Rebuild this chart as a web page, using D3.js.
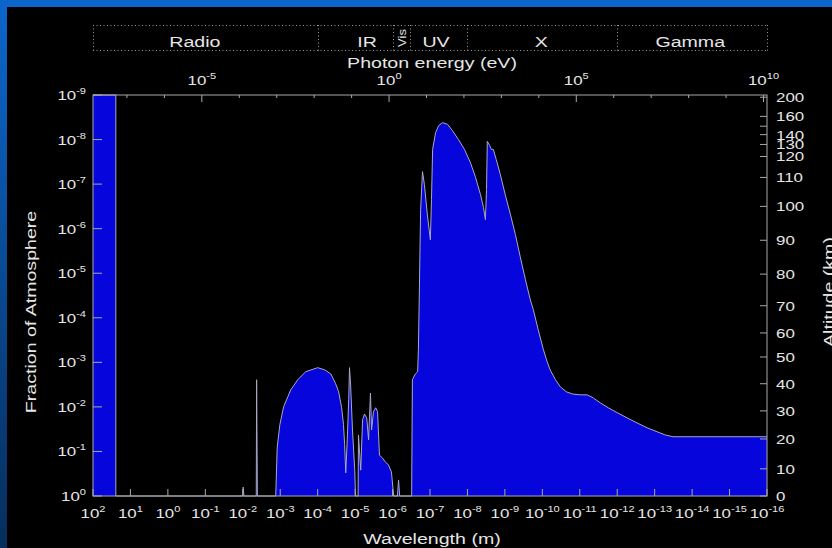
<!DOCTYPE html>
<html lang="en">
<head>
  <meta charset="UTF-8" />
  <title>Atmospheric opacity</title>
  <style>
    body { margin: 0; padding: 0; background: #000; }
    svg { display: block; }
    text { font-family: "Liberation Sans", Arial, sans-serif; fill: #e6e6e6; }
  </style>
  <script src="https://d3js.org/d3.v7.min.js"></script>
</head>
<body>
  <svg width="832" height="548"></svg>
  <script>
    // absorption profile: log10 wavelength (m) and log10 fraction of atmosphere above it
    const wlExp = [2.00, 1.39, 1.39,
      -2.00, -2.01, -2.03, -2.36, -2.37, -2.39,
      -2.88, -2.92, -2.99, -3.09, -3.28, -3.47, -3.68, -4.00, -4.19, -4.35, -4.48, -4.56, -4.64, -4.69, -4.72, -4.75,
      -4.79, -4.83, -4.85, -4.88, -4.93, -4.99, -5.01,
      -5.08, -5.09, -5.15, -5.20, -5.25, -5.31, -5.36, -5.41, -5.44, -5.49, -5.55, -5.60, -5.65, -5.73, -5.81, -5.89, -5.97, -6.03,
      -6.13, -6.16, -6.19,
      -6.51, -6.53, -6.61, -6.67, -6.69, -6.72, -6.75, -6.80, -6.85, -6.93, -7.01, -7.04, -7.07, -7.15, -7.23, -7.33,
      -7.47, -7.60, -7.76, -7.92, -8.08, -8.21, -8.35, -8.43, -8.48, -8.51, -8.53, -8.59, -8.64, -8.69, -8.77, -8.88,
      -9.01, -9.15, -9.28, -9.41, -9.55, -9.68, -9.76, -9.89, -10.03, -10.13, -10.21, -10.35, -10.48, -10.64, -10.80,
      -11.01, -11.20, -11.36, -11.55, -11.76, -12.00, -12.27, -12.53, -12.80, -13.07, -13.28, -13.49, -16.00];
    const fracExp = [-9.00, -9.00, 0,
      0, -0.20, 0, 0, -2.61, 0,
      0, -1.10, -1.60, -2.00, -2.38, -2.61, -2.79, -2.88, -2.83, -2.74, -2.52, -2.34, -1.98, -1.60, -1.15, -0.52,
      -1.26, -2.16, -2.88, -2.49, -1.48, -0.58, 0,
      0, -1.37, -0.58, -1.71, -1.84, -1.75, -1.26, -2.31, -1.48, -1.89, -1.98, -1.89, -0.92, -0.85, -0.76, -0.70, -0.54, 0,
      0, -0.36, 0,
      0, -2.61, -2.74, -2.79, -3.28, -4.85, -6.43, -7.28, -6.99, -6.31, -5.75, -6.65, -7.78, -8.16, -8.31, -8.38,
      -8.34, -8.20, -8.00, -7.78, -7.48, -7.17, -6.76, -6.47, -6.20, -6.88, -7.96, -7.87, -7.78, -7.78, -7.55, -7.21,
      -6.76, -6.31, -5.87, -5.37, -4.85, -4.40, -4.18, -3.73, -3.28, -3.01, -2.83, -2.61, -2.45, -2.34, -2.29,
      -2.27, -2.27, -2.20, -2.09, -1.98, -1.87, -1.75, -1.64, -1.53, -1.44, -1.37, -1.33, -1.33];

    const wlTickExp = [2, 1, 0, -1, -2, -3, -4, -5, -6, -7, -8, -9, -10, -11, -12, -13, -14, -15, -16];
    const fracTickExp = [0, -1, -2, -3, -4, -5, -6, -7, -8, -9];
    const energyTickExp = [-7, -6, -5, -4, -3, -2, -1, 0, 1, 2, 3, 4, 5, 6, 7, 8, 9, 10];
    const energyLabelExp = [-5, 0, 5, 10];
    const altitudes = [0, 10, 20, 30, 40, 50, 60, 70, 80, 90, 100, 110, 120, 130, 140, 150, 160, 200];
    const altLabels = ["0", "10", "20", "30", "40", "50", "60", "70", "80", "90", "100", "110", "120", "130", "140", "", "160", "200"];
    const altFracExp = [0, -0.61, -1.28, -1.91, -2.52, -3.12, -3.66, -4.27, -4.98, -5.74, -6.50, -7.15, -7.62, -7.89, -8.11, -8.30, -8.52, -8.95];
    const bandNames = ["Radio", "IR", "Vis", "UV", "X", "Gamma"];
    const bandLabelExp = [-0.72, -5.32, -6.24, -7.16, -9.97, -13.95];
    const bandEdgeExp = [2, -4, -6.0, -6.47, -8, -12, -16];

    const svg = d3.select("svg");
    const hc = 1.23984e-6; // eV*m

    const defs = svg.append("defs");
    const grad = defs.append("linearGradient").attr("id", "frame").attr("x1", 0).attr("y1", 0).attr("x2", 0).attr("y2", 1);
    grad.append("stop").attr("offset", "0%").attr("stop-color", "#0b66cc");
    grad.append("stop").attr("offset", "100%").attr("stop-color", "#062e5c");
    svg.append("rect").attr("width", 832).attr("height", 548).attr("fill", "url(#frame)");
    svg.append("rect").attr("x", 7).attr("y", 7).attr("width", 825).attr("height", 541).attr("fill", "#000");

    const x = d3.scaleLog().domain([1e2, 1e-16]).range([93, 767]);
    const y = d3.scaleLog().domain([1, 1e-9]).range([496, 95]);
    const xE = d3.scaleLog().domain([hc / 1e2, hc / 1e-16]).range([93, 767]);

    const pts = wlExp.map((w, i) => ({ wl: Math.pow(10, w), f: Math.pow(10, fracExp[i]) }));

    svg.append("path")
      .datum(pts)
      .attr("fill", "#0505dc")
      .attr("d", d3.area().x(d => x(d.wl)).y0(y(1)).y1(d => y(d.f)));
    svg.append("path")
      .datum(pts)
      .attr("fill", "none")
      .attr("stroke", "#a8a8c4")
      .attr("stroke-width", 1)
      .attr("d", d3.line().x(d => x(d.wl)).y(d => y(d.f)));

    // axes box and ticks
    const ax = "#a9a9a9";
    svg.append("rect").attr("x", 93).attr("y", 95).attr("width", 674).attr("height", 401)
      .attr("fill", "none").attr("stroke", ax).attr("stroke-width", 1);

    const g = svg.append("g").attr("stroke", ax).attr("stroke-width", 1);
    wlTickExp.forEach(e => {
      const px = x(Math.pow(10, e));
      g.append("line").attr("x1", px).attr("x2", px).attr("y1", 496).attr("y2", 489);
    });
    fracTickExp.forEach(e => {
      const py = y(Math.pow(10, e));
      g.append("line").attr("x1", 93).attr("x2", 102).attr("y1", py).attr("y2", py);
    });
    energyTickExp.forEach(e => {
      const px = xE(Math.pow(10, e));
      const len = energyLabelExp.includes(e) ? 7 : 3;
      g.append("line").attr("x1", px).attr("x2", px).attr("y1", 95).attr("y2", 95 + len);
    });
    altFracExp.forEach(e => {
      const py = y(Math.pow(10, e));
      g.append("line").attr("x1", 767).attr("x2", 760).attr("y1", py).attr("y2", py);
    });

    function txt(px, py, str, size, anchor, rot, sx) {
      return svg.append("text")
        .attr("transform", `translate(${px},${py}) rotate(${rot || 0}) scale(${sx || 1.4},1)`)
        .attr("font-size", size)
        .attr("text-anchor", anchor || "middle")
        .text(str);
    }
    function pow10(px, py, e, anchor) {
      const t = svg.append("text")
        .attr("transform", `translate(${px},${py}) scale(1.3,1)`)
        .attr("font-size", 13)
        .attr("text-anchor", anchor || "middle");
      t.append("tspan").text("10");
      t.append("tspan").attr("font-size", 8.5).attr("dy", -6).text(e);
      return t;
    }

    wlTickExp.forEach(e => pow10(x(Math.pow(10, e)), 518, e));
    fracTickExp.forEach(e => pow10(86, y(Math.pow(10, e)) + 5, e, "end"));
    energyLabelExp.forEach(e => pow10(xE(Math.pow(10, e)), 85, e));
    altitudes.forEach((a, i) => {
      if (!altLabels[i]) return;
      svg.append("text")
        .attr("transform", `translate(776,${y(Math.pow(10, altFracExp[i])) + 5}) scale(1.3,1)`)
        .attr("font-size", 13)
        .text(altLabels[i]);
    });

    txt(432, 544, "Wavelength (m)", 14);
    txt(432, 68, "Photon energy (eV)", 14);
    txt(36, 312, "Fraction of Atmosphere", 14, "middle", -90);
    txt(834, 292, "Altitude (km)", 14, "middle", -90);

    // spectral band strip
    const band = svg.append("g").attr("stroke", "#9a9a9a").attr("stroke-width", 1).attr("stroke-dasharray", "1,2.5");
    band.append("line").attr("x1", 93).attr("x2", 768).attr("y1", 25.5).attr("y2", 25.5);
    band.append("line").attr("x1", 93).attr("x2", 768).attr("y1", 50.5).attr("y2", 50.5);
    bandEdgeExp.forEach(e => {
      const px = Math.round(x(Math.pow(10, e))) + 0.5;
      band.append("line").attr("x1", px).attr("x2", px).attr("y1", 25).attr("y2", 51);
    });
    bandNames.forEach((n, i) => {
      const px = x(Math.pow(10, bandLabelExp[i]));
      if (n === "Vis") txt(px + 4, 38, n, 10, "middle", -90, 1.3);
      else txt(px, 47, n, 14);
    });
  </script>
</body>
</html>
